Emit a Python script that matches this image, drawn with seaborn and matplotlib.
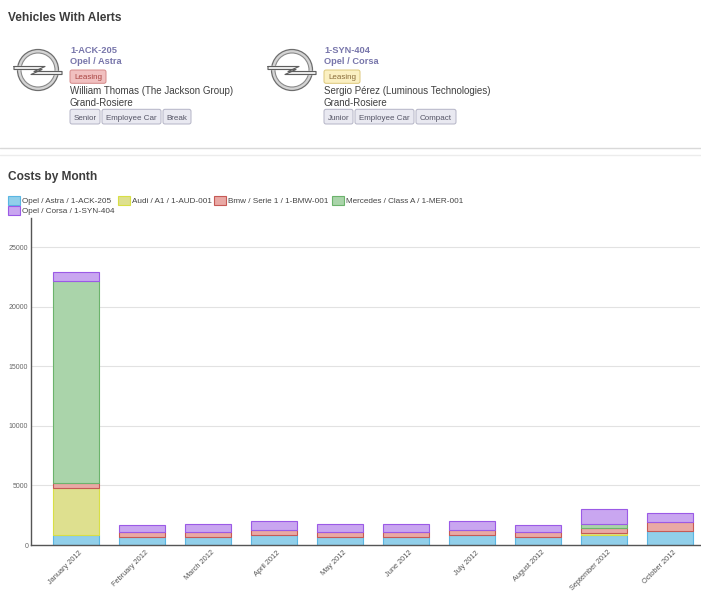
import numpy as np
import matplotlib
matplotlib.use("Agg")
import matplotlib.pyplot as plt
import matplotlib.transforms as mtransforms
from matplotlib.patches import FancyBboxPatch, Circle, Wedge, Patch
import seaborn as sns

# Costs by month, per vehicle (stacked)
months = ['January 2012', 'February 2012', 'March 2012', 'April 2012', 'May 2012',
          'June 2012', 'July 2012', 'August 2012', 'September 2012', 'October 2012']
astra = [800, 650, 650, 850, 650, 650, 800, 650, 800, 1150]
audi = [4000, 0, 0, 0, 0, 0, 0, 0, 200, 0]
bmw = [400, 400, 400, 450, 400, 400, 450, 400, 450, 800]
mercedes = [17000, 0, 0, 0, 0, 0, 0, 0, 300, 0]
corsa = [700, 650, 700, 700, 700, 700, 750, 650, 1300, 700]

series_names = ['Opel / Astra / 1-ACK-205', 'Audi / A1 / 1-AUD-001', 'Bmw / Serie 1 / 1-BMW-001',
                'Mercedes / Class A / 1-MER-001', 'Opel / Corsa / 1-SYN-404']
series_values = [astra, audi, bmw, mercedes, corsa]
fills = ['#91cfea', '#dee08f', '#e9a9a5', '#aad4aa', '#c9a6f0']
edges = ['#5ab6e2', '#d8df45', '#c65a56', '#6cb36c', '#9b5ae6']

sns.set_style('white')
plt.rcParams['font.family'] = ['Liberation Sans', 'DejaVu Sans']

W, H = 701, 600
fig = plt.figure(figsize=(W / 100, H / 100), dpi=100)

# overlay in pixel coordinates for the header part
ov = fig.add_axes([0, 0, 1, 1])
ov.set_xlim(0, W)
ov.set_ylim(H, 0)
ov.axis('off')

dark = '#3c3c3c'
plate = '#7876ab'

ov.text(8, 20.7, 'Vehicles With Alerts', fontsize=8.6, fontweight='bold', color=dark, va='baseline')
ov.text(8, 180, 'Costs by Month', fontsize=8.6, fontweight='bold', color=dark, va='baseline')

ov.plot([0, W], [148, 148], color='#d9d9d9', lw=1)
ov.plot([0, W], [154.5, 154.5], color='#ececec', lw=1)


def logo(cx, cy):
    ov.add_patch(Wedge((cx, cy), 20.5, 0, 360, width=3.5, fc='#d4d4d4', ec='none'))
    ov.add_patch(Circle((cx, cy), 20.5, fill=False, ec='#6e6e6e', lw=0.9))
    ov.add_patch(Circle((cx, cy), 17, fill=False, ec='#8a8a8a', lw=0.8))
    # lightning bolt outline
    bx = [cx - 24, cx + 7, cx - 4, cx + 24, cx + 24, cx - 7, cx + 4, cx - 24, cx - 24]
    by = [cy - 3.5, cy - 3.5, cy + 1.5, cy + 1.5, cy + 4.5, cy + 4.5, cy - 0.5, cy - 0.5, cy - 3.5]
    ov.fill(bx, by, color='#efefef', zorder=3)
    ov.plot(bx, by, color='#5e5e5e', lw=0.8, zorder=4)


def box(x0, x1, y0, y1, fc, ec, label, tc):
    ov.add_patch(FancyBboxPatch((x0, y0), x1 - x0, y1 - y0,
                                boxstyle='round,pad=0,rounding_size=2',
                                fc=fc, ec=ec, lw=0.7))
    ov.text((x0 + x1) / 2, y1 - 4.3, label, fontsize=5.8, color=tc, ha='center', va='baseline')


vehicles = [
    (0, '1-ACK-205', 'Opel / Astra', ('#f1c0c0', '#d58a8a', '#a94442'),
     'William Thomas (The Jackson Group)',
     [(70, 100, 'Senior'), (102, 161, 'Employee Car'), (163, 191, 'Break')]),
    (254, '1-SYN-404', 'Opel / Corsa', ('#fbf0c2', '#dcc77a', '#8a6d3b'),
     'Sergio Pérez (Luminous Technologies)',
     [(70, 99, 'Junior'), (101, 160, 'Employee Car'), (162, 202, 'Compact')]),
]

for dx, plate_no, model, badge, driver, tags in vehicles:
    logo(38 + dx, 70)
    ov.text(70 + dx, 53.3, plate_no, fontsize=6.7, fontweight='bold', color=plate, va='baseline')
    ov.text(70 + dx, 64.3, model, fontsize=6.7, fontweight='bold', color=plate, va='baseline')
    box(70 + dx, 106 + dx, 70, 83.3, badge[0], badge[1], 'Leasing', badge[2])
    ov.text(70 + dx, 94.3, driver, fontsize=7, color='#404040', va='baseline')
    ov.text(70 + dx, 106, 'Grand-Rosiere', fontsize=7, color='#404040', va='baseline')
    for x0, x1, t in tags:
        box(x0 + dx, x1 + dx, 109.3, 124, '#e9e9f1', '#b4b4c6', t, '#555566')

# chart
ax = fig.add_axes([31 / W, 1 - 545 / H, (700 - 31) / W, (545 - 218) / H])
bottom = np.zeros(len(months))
for name, vals, fc, ec in zip(series_names, series_values, fills, edges):
    n_before = len(ax.patches)
    sns.barplot(x=months, y=vals, bottom=bottom, color=fc, linewidth=0.8,
                width=0.7, saturation=1, errorbar=None, ax=ax)
    for p in ax.patches[n_before:]:
        p.set_facecolor(fc)
        p.set_edgecolor(ec)
        p.set_linewidth(0.8)
        if p.get_height() == 0:
            p.set_visible(False)
    bottom = bottom + np.array(vals)

ax.set_xlim(-0.68, 9.45)
ax.set_ylim(0, 27460)
ax.set_yticks([0, 5000, 10000, 15000, 20000, 25000])
ax.yaxis.grid(True, color='#e2e2e2', lw=0.8)
ax.xaxis.grid(False)
ax.set_axisbelow(True)
for s in ['top', 'right']:
    ax.spines[s].set_visible(False)
for s in ['left', 'bottom']:
    ax.spines[s].set_color('#555555')
    ax.spines[s].set_linewidth(1)
ax.tick_params(axis='y', length=0, pad=2, labelsize=5, labelcolor='#666666')
ax.tick_params(axis='x', length=0, pad=3, labelsize=5.3, labelcolor='#555555')
shift = mtransforms.ScaledTranslation(3 / 100, 0, fig.dpi_scale_trans)
for lab in ax.get_xticklabels():
    lab.set_rotation(45)
    lab.set_ha('right')
    lab.set_rotation_mode('anchor')
    lab.set_transform(lab.get_transform() + shift)
ax.set_xlabel('')
ax.set_ylabel('')

# legend, row-major order
handles = [Patch(facecolor=fc, edgecolor=ec, linewidth=0.8) for fc, ec in zip(fills, edges)]
order = [0, 4, 1, 2, 3]
fig.legend([handles[i] for i in order], [series_names[i] for i in order],
           loc='upper left', bbox_to_anchor=(8 / W, 1 - 196 / H), ncol=4, frameon=False,
           fontsize=5.9, handlelength=1.46, handleheight=1.34, handletextpad=0.25,
           columnspacing=0.37, labelspacing=0.05, borderpad=0, borderaxespad=0,
           labelcolor='#444444')

fig.savefig('out.png', dpi=100)
